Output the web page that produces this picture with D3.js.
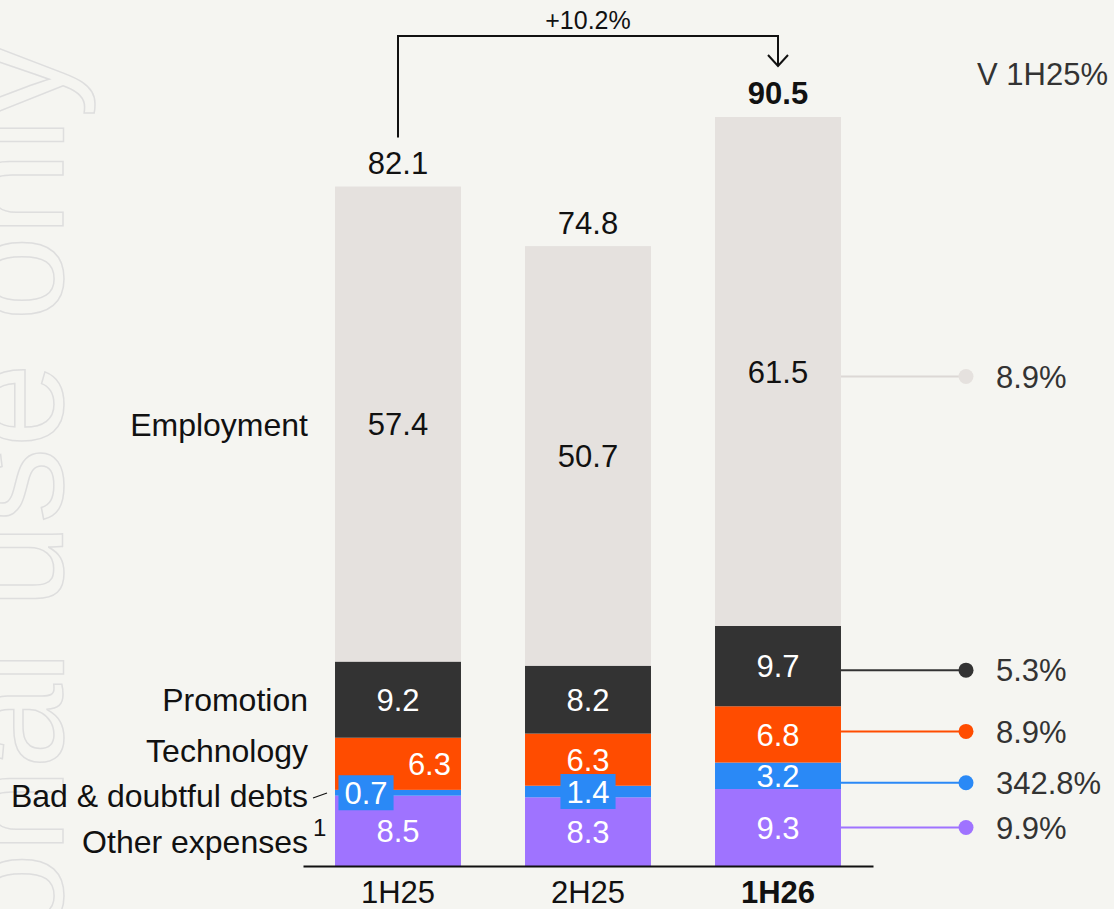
<!DOCTYPE html>
<html>
<head>
<meta charset="utf-8">
<script src="https://cdn.jsdelivr.net/npm/d3@7"></script>
<style>
  body { margin: 0; background: #f5f5f1; }
  svg { display: block; font-family: "Liberation Sans", Arial, sans-serif; }
</style>
</head>
<body>
<svg id="chart" width="1114" height="909"></svg>
<script>
/**
 *   Operating expenses by half, stacked
 */

var periods      = ["1H25", "2H25", "1H26"];
var categories   = ["Other expenses", "Bad & doubtful debts", "Technology", "Promotion", "Employment"];
var otherExp     = [8.5, 8.3, 9.3];
var badDebts     = [0.7, 1.4, 3.2];
var technology   = [6.3, 6.3, 6.8];
var promotion    = [9.2, 8.2, 9.7];
var employment   = [57.4, 50.7, 61.5];
var totals       = [82.1, 74.8, 90.5];
var changeV1H25  = ["9.9%", "342.8%", "8.9%", "5.3%", "8.9%"];
var bridgeLabel  = "+10.2%";

var colors = ["#9f73ff", "#2a89f6", "#ff4c00", "#333333", "#e5e1de"];
var textColors = ["#fff", "#fff", "#fff", "#fff", "#111"];

var svg    = d3.select("#chart");
var width  = 1114;
var height = 909;

// watermark
svg.append("text")
   .attr("transform", "translate(63,42) rotate(-90)")
   .attr("text-anchor", "end")
   .style("font-size", "152px")
   .attr("fill", "none")
   .attr("stroke", "#dedede")
   .attr("stroke-width", 1.5)
   .text("For personal use only");

// build table for stacking
var series = [otherExp, badDebts, technology, promotion, employment];
var table = periods.map(function(p, i) {
    var row = { period: p };
    categories.forEach(function(c, j) { row[c] = series[j][i]; });
    return row;
});
var stacked = d3.stack().keys(categories)(table);

var x = d3.scaleBand()
    .domain(periods)
    .range([303, 873])
    .paddingInner(0.337)
    .paddingOuter(0.1685);

var y = d3.scaleLinear()
    .domain([0, 90.5])
    .range([866, 117]);

var bw = x.bandwidth();

// segments
var layer = svg.selectAll("g.layer")
    .data(stacked)
    .enter().append("g")
    .attr("class", "layer")
    .attr("fill", function(d, i) { return colors[i]; });

layer.selectAll("rect")
    .data(function(d) { return d; })
    .enter().append("rect")
    .attr("x", function(d) { return x(d.data.period); })
    .attr("y", function(d) { return y(d[1]); })
    .attr("width", bw)
    .attr("height", function(d) { return y(d[0]) - y(d[1]); });

// value labels inside the segments
stacked.forEach(function(s, k) {
    s.forEach(function(d, i) {
        var v  = d[1] - d[0];
        var cy = (y(d[0]) + y(d[1])) / 2;
        var cx = x(d.data.period) + bw / 2;
        var anchor = "middle";
        var small = (y(d[0]) - y(d[1])) < 20;
        if (k === 2 && i === 0) { cx = x(d.data.period) + bw - 10; anchor = "end"; }
        var g = svg.append("g");
        var t = g.append("text")
            .attr("x", cx)
            .attr("y", cy)
            .attr("dy", "0.36em")
            .attr("text-anchor", anchor)
            .attr("fill", textColors[k])
            .style("font-size", "31px")
            .text(v.toFixed(1));
        if (small) {
            if (i === 0) t.attr("x", x(d.data.period) + 4 + 27);
            var bb = t.node().getBBox();
            g.insert("rect", "text")
             .attr("x", bb.x - 6)
             .attr("y", cy - 17.5)
             .attr("width", bb.width + 12)
             .attr("height", 35)
             .attr("fill", colors[k]);
        }
    });
});

// totals
svg.selectAll("text.total")
   .data(totals)
   .enter().append("text")
   .attr("class", "total")
   .attr("x", function(d, i) { return x(periods[i]) + bw / 2; })
   .attr("y", function(d) { return y(d) - 13; })
   .attr("text-anchor", "middle")
   .style("font-size", "31px")
   .style("font-weight", function(d, i) { return i === 2 ? "bold" : "normal"; })
   .attr("fill", "#111")
   .text(function(d) { return d.toFixed(1); });

// axis
var axis = svg.append("g")
    .attr("transform", "translate(0," + y(0) + ")")
    .call(d3.axisBottom(x).tickSize(0).tickSizeOuter(0).tickPadding(15));
axis.select(".domain").attr("stroke", "#111").attr("stroke-width", 2);
axis.selectAll("text")
    .style("font-size", "31px")
    .style("font-family", "Liberation Sans, Arial, sans-serif")
    .attr("fill", "#111")
    .style("font-weight", function(d) { return d === "1H26" ? "bold" : "normal"; });

// category labels on the left (against 1H25)
var leftNudge = [11, 3, -13, 0, 0];
var first = stacked.map(function(s) { return s[0]; });
svg.selectAll("text.cat")
   .data(categories)
   .enter().append("text")
   .attr("class", "cat")
   .attr("x", 308)
   .attr("y", function(d, i) { return (y(first[i][0]) + y(first[i][1])) / 2 + leftNudge[i]; })
   .attr("dy", "0.36em")
   .attr("text-anchor", "end")
   .attr("fill", "#111")
   .style("font-size", "32px")
   .text(function(d) { return d; });

svg.append("text")
   .attr("x", 313)
   .attr("y", 836)
   .attr("fill", "#111")
   .style("font-size", "24px")
   .text("1");

svg.append("line")
   .attr("x1", 313).attr("y1", 798)
   .attr("x2", 327).attr("y2", 793)
   .attr("stroke", "#111")
   .attr("stroke-width", 1.2);

// change vs 1H25 on the right
var rightNudge = [0, 7, -3, 4, 5];
var last = stacked.map(function(s) { return s[2]; });
var lineColors = ["#9f73ff", "#2a89f6", "#ff4c00", "#333333", "#dcd8d5"];
var right = svg.selectAll("g.change")
    .data(changeV1H25)
    .enter().append("g")
    .attr("class", "change")
    .attr("transform", function(d, i) {
        return "translate(0," + ((y(last[i][0]) + y(last[i][1])) / 2 + rightNudge[i]) + ")";
    });
right.append("line")
     .attr("x1", x("1H26") + bw)
     .attr("x2", 966)
     .attr("stroke", function(d, i) { return lineColors[i]; })
     .attr("stroke-width", 2);
right.append("circle")
     .attr("cx", 966)
     .attr("r", 7.5)
     .attr("fill", function(d, i) { return colors[i]; });
right.append("text")
     .attr("x", 996)
     .attr("dy", "0.36em")
     .attr("fill", "#333")
     .style("font-size", "31px")
     .text(function(d) { return d; });

svg.append("text")
   .attr("x", 977)
   .attr("y", 85)
   .attr("fill", "#333")
   .style("font-size", "31px")
   .text("V 1H25%");

// growth bracket 1H25 -> 1H26
var xa = x("1H25") + bw / 2;
var xb = x("1H26") + bw / 2;
svg.append("path")
   .attr("d", "M" + xa + "," + (y(totals[0]) - 49) + "V36H" + xb + "V66")
   .attr("fill", "none")
   .attr("stroke", "#111")
   .attr("stroke-width", 2);
svg.append("path")
   .attr("d", "M" + (xb - 10) + ",55L" + xb + ",66L" + (xb + 10) + ",55")
   .attr("fill", "none")
   .attr("stroke", "#111")
   .attr("stroke-width", 2);
svg.append("text")
   .attr("x", (xa + xb) / 2)
   .attr("y", 29)
   .attr("text-anchor", "middle")
   .attr("fill", "#111")
   .style("font-size", "25px")
   .text(bridgeLabel);
</script>
</body>
</html>
